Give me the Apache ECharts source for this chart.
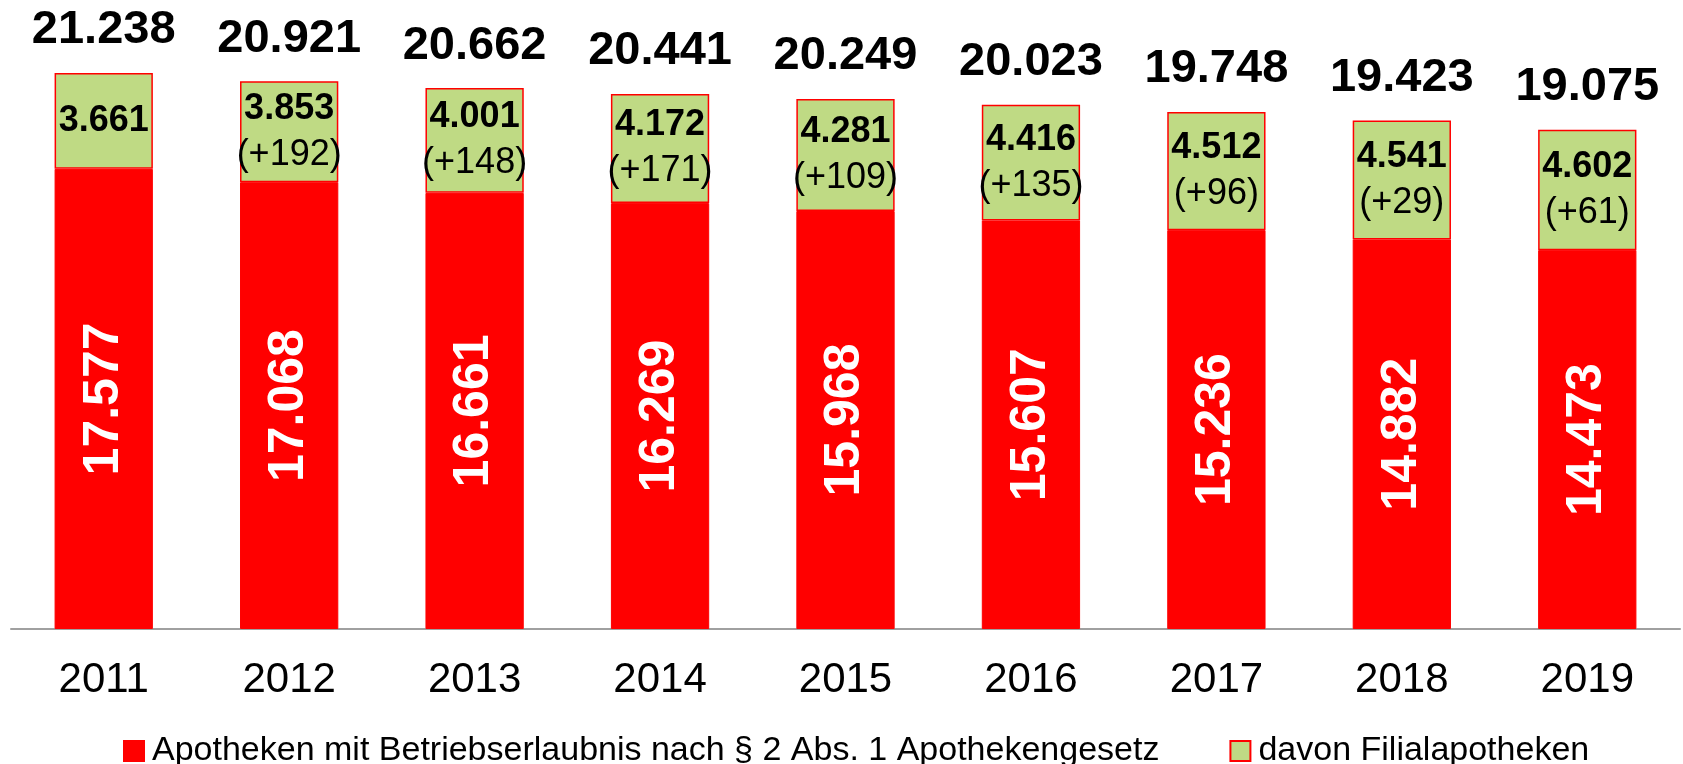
<!DOCTYPE html>
<html>
<head>
<meta charset="utf-8">
<script src="https://cdn.jsdelivr.net/npm/echarts@6/dist/echarts.min.js"></script>
<style>
    html, body { margin: 0; padding: 0; background: #fff; }
    #main { width: 1683px; height: 764px; }
</style>
</head>
<body>
<div id="main"></div>
<script>
// Werte
const years = ['2011', '2012', '2013', '2014', '2015', '2016', '2017', '2018', '2019'];
const hauptApotheken = [17577, 17068, 16661, 16269, 15968, 15607, 15236, 14882, 14473];
const filialApotheken = [3661, 3853, 4001, 4172, 4281, 4416, 4512, 4541, 4602];
const filialZuwachs = [null, 192, 148, 171, 109, 135, 96, 29, 61];
const gesamt = [21238, 20921, 20662, 20441, 20249, 20023, 19748, 19423, 19075];

const FONT = '"Liberation Sans", Arial, sans-serif';

function fmt(n) {
    return String(n).replace(/\B(?=(\d{3})+(?!\d))/g, '.');
}

const myChart = echarts.init(document.getElementById('main'));

const option = {
    animation: false,
    textStyle: { fontFamily: FONT },
    grid: { left: 11, right: 3, top: 40, bottom: 135 },
    legend: {
        top: 729,
        left: 118,
        icon: 'rect',
        itemWidth: 20,
        itemHeight: 20,
        itemGap: 70,
        textStyle: { fontSize: 34, color: '#000', fontFamily: FONT, padding: [0, 0, 0, 3] },
        data: ['Apotheken mit Betriebserlaubnis nach § 2 Abs. 1 Apothekengesetz', 'davon Filialapotheken']
    },
    xAxis: {
        type: 'category',
        data: years,
        axisLine: { lineStyle: { color: '#a0a0a0', width: 2 } },
        axisTick: { length: 13, lineStyle: { color: '#a0a0a0', width: 2 } },
        axisLabel: { fontSize: 42, color: '#000', margin: 30, fontFamily: FONT }
    },
    yAxis: {
        type: 'value',
        min: 0,
        max: 22500,
        show: false,
        splitLine: { show: false }
    },
    series: [
        {
            name: 'Apotheken mit Betriebserlaubnis nach § 2 Abs. 1 Apothekengesetz',
            type: 'bar',
            stack: 'apo',
            barWidth: '53%',
            itemStyle: { color: '#ff0000', borderColor: '#ff0000', borderWidth: 1 },
            label: {
                show: true,
                position: 'inside',
                rotate: 90,
                color: '#fff',
                fontSize: 50,
                fontWeight: 'bold',
                fontFamily: FONT,
                formatter: p => fmt(p.value)
            },
            data: hauptApotheken
        },
        {
            name: 'davon Filialapotheken',
            type: 'bar',
            stack: 'apo',
            itemStyle: { color: '#bfda84', borderColor: '#ff0000', borderWidth: 1.5 },
            label: {
                show: true,
                position: 'inside',
                color: '#000',
                fontFamily: FONT,
                formatter: p => {
                    const z = filialZuwachs[p.dataIndex];
                    return z == null ? '{b|' + fmt(p.value) + '}' : '{b|' + fmt(p.value) + '}\n{r|(+' + z + ')}';
                },
                rich: {
                    b: { fontSize: 36, fontWeight: 'bold', lineHeight: 46, fontFamily: FONT, color: '#000' },
                    r: { fontSize: 36, lineHeight: 46, fontFamily: FONT, color: '#000' }
                }
            },
            data: filialApotheken
        },
        {
            // Summenbeschriftung über den Säulen
            name: 'gesamt',
            type: 'scatter',
            symbolSize: 0,
            itemStyle: { color: '#000', opacity: 1 },
            label: {
                show: true,
                position: 'top',
                distance: 19,
                color: '#000',
                fontSize: 47,
                fontWeight: 'bold',
                fontFamily: FONT,
                formatter: p => fmt(p.value)
            },
            data: gesamt
        }
    ]
};

myChart.setOption(option);
</script>
</body>
</html>
